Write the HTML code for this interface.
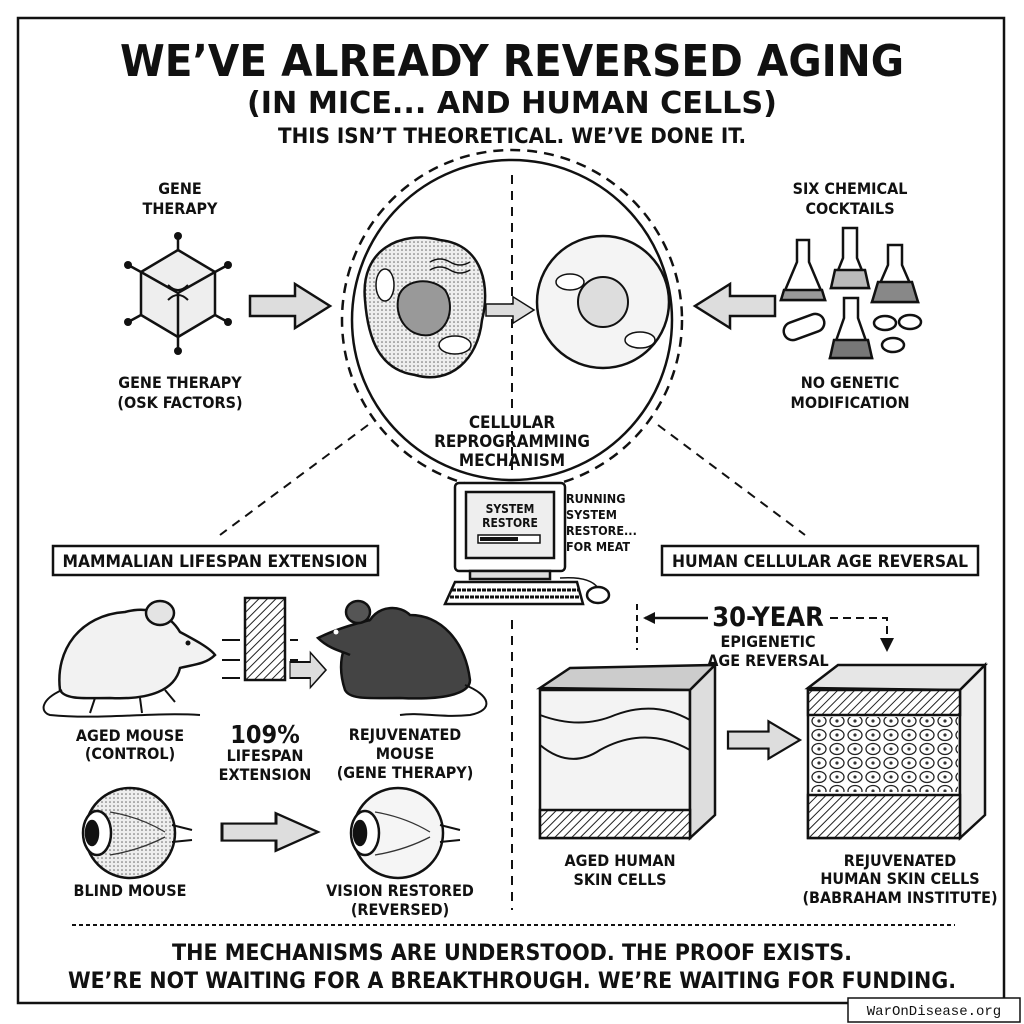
<!DOCTYPE html>
<html><head><meta charset="utf-8"><style>
html,body{margin:0;padding:0;background:#fff;}
svg{display:block;}
text{font-family:"DejaVu Sans Condensed","Liberation Sans",sans-serif;font-weight:bold;fill:#111;}
</style></head><body>
<svg width="1024" height="1024" viewBox="0 0 1024 1024" xmlns="http://www.w3.org/2000/svg">
<defs>
<pattern id="hatch" width="6" height="6" patternUnits="userSpaceOnUse" patternTransform="rotate(45)">
<rect width="6" height="6" fill="#fff"/><line x1="0" y1="0" x2="0" y2="6" stroke="#222" stroke-width="2"/></pattern>
<pattern id="dots" width="4" height="4" patternUnits="userSpaceOnUse"><rect width="4" height="4" fill="#eee"/><circle cx="2" cy="2" r="0.8" fill="#666"/></pattern>
<pattern id="cells" width="18" height="14" patternUnits="userSpaceOnUse"><rect width="18" height="14" fill="#fff"/><ellipse cx="9" cy="7" rx="7" ry="5.5" fill="none" stroke="#222" stroke-width="1.3"/><circle cx="9" cy="7" r="1.6" fill="#333"/></pattern>
<g id="rarrow"><path d="M0,-10 L45,-10 L45,-22 L80,0 L45,22 L45,10 L0,10 Z" fill="#ddd" stroke="#111" stroke-width="2.5"/></g>
</defs>
<rect width="1024" height="1024" fill="#fff"/>
<rect x="18" y="18" width="986" height="985" fill="none" stroke="#111" stroke-width="2.5"/>

<!-- titles -->
<text x="512" y="76" font-size="44" text-anchor="middle" textLength="784" lengthAdjust="spacingAndGlyphs">WE’VE ALREADY REVERSED AGING</text>
<text x="512" y="113" font-size="30" text-anchor="middle" textLength="530" lengthAdjust="spacingAndGlyphs">(IN MICE... AND HUMAN CELLS)</text>
<text x="512" y="143" font-size="21" text-anchor="middle" textLength="468" lengthAdjust="spacingAndGlyphs">THIS ISN’T THEORETICAL. WE’VE DONE IT.</text>

<!-- central circle -->
<circle cx="512" cy="320" r="170" fill="none" stroke="#111" stroke-width="2.5" stroke-dasharray="10 7"/>
<circle cx="512" cy="320" r="160" fill="none" stroke="#111" stroke-width="2.5"/>
<line x1="512" y1="175" x2="512" y2="470" stroke="#111" stroke-width="2" stroke-dasharray="9 7"/>
<!-- old cell -->
<path d="M365,300 C360,250 400,230 440,240 C485,245 490,290 482,320 C478,360 450,385 415,375 C380,370 368,340 365,300 Z" fill="url(#dots)" stroke="#111" stroke-width="2.5"/>
<path d="M398,300 C400,280 430,275 445,290 C455,305 450,330 430,335 C410,338 395,320 398,300 Z" fill="#999" stroke="#111" stroke-width="2"/>
<ellipse cx="385" cy="285" rx="9" ry="16" fill="#fff" stroke="#111" stroke-width="1.5"/>
<ellipse cx="455" cy="345" rx="16" ry="9" fill="#fff" stroke="#111" stroke-width="1.5"/>
<path d="M430,262 q10,-6 20,0 q10,6 20,0 M430,270 q10,-6 20,0 q10,6 20,0" fill="none" stroke="#111" stroke-width="1.5"/>
<!-- young cell -->
<circle cx="603" cy="302" r="66" fill="#f4f4f4" stroke="#111" stroke-width="2.5"/>
<circle cx="603" cy="302" r="25" fill="#ddd" stroke="#111" stroke-width="2"/>
<ellipse cx="570" cy="282" rx="14" ry="8" fill="#fff" stroke="#111" stroke-width="1.5"/>
<ellipse cx="640" cy="340" rx="15" ry="8" fill="#fff" stroke="#111" stroke-width="1.5"/>
<use href="#rarrow" transform="translate(486,310) scale(0.6)"/>

<!-- virus -->
<g stroke="#111" stroke-width="2.5" fill="#fff">
<polygon points="178,250 215,272 215,315 178,337 141,315 141,272" fill="#eee"/>
<polyline points="141,272 178,293 215,272 M178,293" fill="none"/>
<line x1="178" y1="293" x2="178" y2="337"/>
<line x1="178" y1="250" x2="178" y2="238"/><line x1="178" y1="337" x2="178" y2="349"/>
<line x1="141" y1="272" x2="130" y2="266"/><line x1="215" y1="272" x2="226" y2="266"/>
<line x1="141" y1="315" x2="130" y2="321"/><line x1="215" y1="315" x2="226" y2="321"/>
</g>
<g fill="#111"><circle cx="178" cy="236" r="4"/><circle cx="178" cy="351" r="4"/><circle cx="128" cy="265" r="4"/><circle cx="228" cy="265" r="4"/><circle cx="128" cy="322" r="4"/><circle cx="228" cy="322" r="4"/></g>
<path d="M168,285 q10,10 20,0 M168,300 q10,-10 20,0" fill="none" stroke="#111" stroke-width="2"/>
<use href="#rarrow" transform="translate(250,306)"/>
<use href="#rarrow" transform="translate(775,306) scale(-1,1)"/>

<text x="180" y="194" font-size="16" text-anchor="middle">GENE</text>
<text x="180" y="214" font-size="16" text-anchor="middle">THERAPY</text>
<text x="180" y="388" font-size="16" text-anchor="middle">GENE THERAPY</text>
<text x="180" y="408" font-size="16" text-anchor="middle">(OSK FACTORS)</text>
<text x="850" y="194" font-size="16" text-anchor="middle">SIX CHEMICAL</text>
<text x="850" y="214" font-size="16" text-anchor="middle">COCKTAILS</text>
<text x="850" y="388" font-size="16" text-anchor="middle">NO GENETIC</text>
<text x="850" y="408" font-size="16" text-anchor="middle">MODIFICATION</text>

<!-- flasks -->
<g stroke="#111" stroke-width="2.5" fill="#fff">
<path d="M797,240 h12 v22 l16,38 h-44 l16,-38 z"/><path d="M784,290 h38 l3,10 h-44 z" fill="#999"/>
<path d="M843,228 h14 v30 l12,30 h-38 l12,-30 z"/><path d="M835,270 h30 l4,18 h-38 z" fill="#bbb"/>
<path d="M888,245 h14 v20 l16,37 h-46 l16,-37 z"/><path d="M878,282 h34 l6,20 h-46 z" fill="#888"/>
<path d="M844,298 h14 v20 l14,40 h-42 l14,-40 z"/><path d="M834,340 h34 l4,18 h-42 z" fill="#777"/>
<rect x="783" y="318" width="42" height="18" rx="9" transform="rotate(-20 804 327)"/>
<ellipse cx="885" cy="323" rx="11" ry="7"/><ellipse cx="910" cy="322" rx="11" ry="7"/><ellipse cx="893" cy="345" rx="11" ry="7"/>
</g>

<text x="512" y="428" font-size="17" text-anchor="middle">CELLULAR</text>
<text x="512" y="447" font-size="17" text-anchor="middle">REPROGRAMMING</text>
<text x="512" y="466" font-size="17" text-anchor="middle">MECHANISM</text>

<line x1="368" y1="425" x2="220" y2="535" stroke="#111" stroke-width="2" stroke-dasharray="9 7"/>
<line x1="658" y1="425" x2="805" y2="535" stroke="#111" stroke-width="2" stroke-dasharray="9 7"/>

<!-- computer -->
<g stroke="#111" stroke-width="2.5">
<rect x="455" y="483" width="110" height="88" rx="4" fill="#fff"/>
<rect x="466" y="492" width="88" height="66" fill="#eee"/>
<rect x="478" y="535" width="62" height="8" fill="#fff" stroke-width="1.5"/>
<rect x="480" y="537" width="38" height="4" fill="#111" stroke="none"/>
<rect x="470" y="571" width="80" height="8" fill="#ddd"/>
<path d="M455,582 h122 l6,22 h-138 z" fill="#fff"/>
<path d="M452,590 h128 M450,597 h132" stroke-width="3" stroke-dasharray="4 1"/>
<path d="M560,578 q30,-2 38,10" fill="none" stroke-width="1.5"/>
<ellipse cx="598" cy="595" rx="11" ry="8" fill="#fff"/>
</g>
<text x="510" y="513" font-size="12" text-anchor="middle">SYSTEM</text>
<text x="510" y="527" font-size="12" text-anchor="middle">RESTORE</text>
<text x="566" y="503" font-size="12.5">RUNNING</text>
<text x="566" y="519" font-size="12.5">SYSTEM</text>
<text x="566" y="535" font-size="12.5">RESTORE...</text>
<text x="566" y="551" font-size="12.5">FOR MEAT</text>

<!-- section boxes -->
<rect x="53" y="546" width="325" height="29" fill="#fff" stroke="#111" stroke-width="2.5"/>
<text x="215" y="567" font-size="17" text-anchor="middle" textLength="305" lengthAdjust="spacingAndGlyphs">MAMMALIAN LIFESPAN EXTENSION</text>
<rect x="662" y="546" width="316" height="29" fill="#fff" stroke="#111" stroke-width="2.5"/>
<text x="820" y="567" font-size="17" text-anchor="middle" textLength="296" lengthAdjust="spacingAndGlyphs">HUMAN CELLULAR AGE REVERSAL</text>

<line x1="512" y1="620" x2="512" y2="910" stroke="#111" stroke-width="2" stroke-dasharray="9 7"/>

<!-- aged mouse -->
<g stroke="#111" stroke-width="2.5">
<path d="M60,690 C55,650 80,615 125,612 C150,605 170,615 180,632 C195,640 210,648 215,655 C205,665 190,665 180,668 C175,690 150,700 110,698 C85,698 65,700 60,690 Z" fill="#f2f2f2"/>
<path d="M62,690 C40,700 40,712 50,715 C100,720 150,712 200,715" fill="none" stroke-width="2"/>
<ellipse cx="160" cy="613" rx="14" ry="12" fill="#e4e4e4"/>
<path d="M95,698 l-5,15 M140,698 l2,15 M165,690 l10,12" stroke-width="2"/>
</g>
<circle cx="188" cy="643" r="2.5" fill="#111"/>
<!-- bar -->
<rect x="245" y="598" width="40" height="82" fill="url(#hatch)" stroke="#111" stroke-width="2.5"/>
<path d="M222,640 h18 M222,660 h18 M222,678 h18 M290,640 h8 M290,660 h8" stroke="#111" stroke-width="2"/>
<use href="#rarrow" transform="translate(290,670) scale(0.45,0.8)"/>
<!-- young mouse -->
<g stroke="#111" stroke-width="2.5">
<path d="M345,690 C335,660 345,630 370,620 C380,605 400,605 410,615 C440,615 465,640 470,680 C470,695 440,700 400,698 C370,698 350,700 345,690 Z" fill="#444"/>
<path d="M370,620 C350,625 330,632 318,638 C330,650 345,652 350,655" fill="#444"/>
<ellipse cx="358" cy="612" rx="12" ry="11" fill="#555"/>
<path d="M465,685 C490,695 495,710 470,715 C440,718 420,712 400,715" fill="none" stroke-width="2"/>
</g>
<circle cx="336" cy="632" r="2.5" fill="#fff"/>

<text x="130" y="741" font-size="16" text-anchor="middle">AGED MOUSE</text>
<text x="130" y="759" font-size="16" text-anchor="middle">(CONTROL)</text>
<text x="265" y="743" font-size="25" text-anchor="middle">109%</text>
<text x="265" y="761" font-size="16" text-anchor="middle">LIFESPAN</text>
<text x="265" y="780" font-size="16" text-anchor="middle">EXTENSION</text>
<text x="405" y="740" font-size="16" text-anchor="middle">REJUVENATED</text>
<text x="405" y="759" font-size="16" text-anchor="middle">MOUSE</text>
<text x="405" y="778" font-size="16" text-anchor="middle">(GENE THERAPY)</text>

<!-- eyes -->
<g stroke="#111" stroke-width="2.5">
<circle cx="130" cy="833" r="45" fill="url(#dots)"/>
<ellipse cx="97" cy="833" rx="14" ry="22" fill="#fff"/>
<ellipse cx="92" cy="833" rx="6" ry="12" fill="#111"/>
<path d="M172,825 l20,5 M172,842 l20,-2" stroke-width="2"/>
<circle cx="398" cy="833" r="45" fill="#f5f5f5"/>
<ellipse cx="365" cy="833" rx="14" ry="22" fill="#fff"/>
<ellipse cx="360" cy="833" rx="6" ry="12" fill="#111"/>
<path d="M440,825 l20,5 M440,842 l20,-2" stroke-width="2"/>
</g>
<path d="M110,812 q30,5 55,20 M110,855 q30,-5 55,-18 M375,812 q30,5 55,20 M375,855 q30,-5 55,-18" fill="none" stroke="#333" stroke-width="1.3"/>
<use href="#rarrow" transform="translate(222,832) scale(1.2,0.85)"/>
<text x="130" y="896" font-size="16" text-anchor="middle">BLIND MOUSE</text>
<text x="400" y="896" font-size="16" text-anchor="middle">VISION RESTORED</text>
<text x="400" y="915" font-size="16" text-anchor="middle">(REVERSED)</text>

<!-- 30 year -->
<text x="768" y="626" font-size="27" text-anchor="middle">30-YEAR</text>
<text x="768" y="647" font-size="16" text-anchor="middle">EPIGENETIC</text>
<text x="768" y="666" font-size="16" text-anchor="middle">AGE REVERSAL</text>
<line x1="637" y1="604" x2="637" y2="650" stroke="#111" stroke-width="2" stroke-dasharray="6 5"/>
<line x1="645" y1="618" x2="708" y2="618" stroke="#111" stroke-width="2.5"/>
<path d="M643,618 l12,-6 v12 z" fill="#111"/>
<path d="M830,618 h57 v30" fill="none" stroke="#111" stroke-width="2" stroke-dasharray="8 5"/>
<path d="M880,638 l7,14 l7,-14 z" fill="#111"/>

<!-- skin blocks -->
<g stroke="#111" stroke-width="2.5">
<path d="M540,688 L570,668 L715,665 L690,690 Z" fill="#ccc"/>
<rect x="540" y="690" width="150" height="148" fill="#f3f3f3"/>
<path d="M690,690 L715,665 L715,815 L690,838 Z" fill="#ddd"/>
<path d="M540,715 q40,15 75,0 q40,-15 75,5 M540,745 q30,25 60,5 q45,-25 90,0 M540,810 h150" fill="none" stroke-width="2"/>
<rect x="540" y="810" width="150" height="28" fill="url(#hatch)"/>
<path d="M808,688 L838,665 L985,665 L960,690 Z" fill="#e6e6e6"/>
<rect x="808" y="690" width="152" height="148" fill="#fff"/>
<path d="M960,690 L985,665 L985,815 L960,838 Z" fill="#eee"/>
<rect x="808" y="690" width="152" height="25" fill="url(#hatch)"/>
<rect x="810" y="717" width="148" height="75" fill="url(#cells)" stroke="none"/>
<rect x="808" y="795" width="152" height="43" fill="url(#hatch)"/>
</g>
<use href="#rarrow" transform="translate(728,740) scale(0.9,0.85)"/>
<text x="620" y="866" font-size="16" text-anchor="middle">AGED HUMAN</text>
<text x="620" y="885" font-size="16" text-anchor="middle">SKIN CELLS</text>
<text x="900" y="866" font-size="16" text-anchor="middle">REJUVENATED</text>
<text x="900" y="884" font-size="16" text-anchor="middle">HUMAN SKIN CELLS</text>
<text x="900" y="903" font-size="16" text-anchor="middle">(BABRAHAM INSTITUTE)</text>

<line x1="72" y1="925" x2="955" y2="925" stroke="#111" stroke-width="2" stroke-dasharray="4 3"/>
<text x="512" y="960" font-size="22" text-anchor="middle" textLength="680" lengthAdjust="spacingAndGlyphs">THE MECHANISMS ARE UNDERSTOOD. THE PROOF EXISTS.</text>
<text x="512" y="988" font-size="22" text-anchor="middle" textLength="888" lengthAdjust="spacingAndGlyphs">WE’RE NOT WAITING FOR A BREAKTHROUGH. WE’RE WAITING FOR FUNDING.</text>

<rect x="848" y="998" width="172" height="24" fill="#fff" stroke="#111" stroke-width="1.5"/>
<text x="934" y="1015" font-size="14" text-anchor="middle" style="font-family:'Liberation Mono',monospace;font-weight:normal">WarOnDisease.org</text>
</svg>
</body></html>
